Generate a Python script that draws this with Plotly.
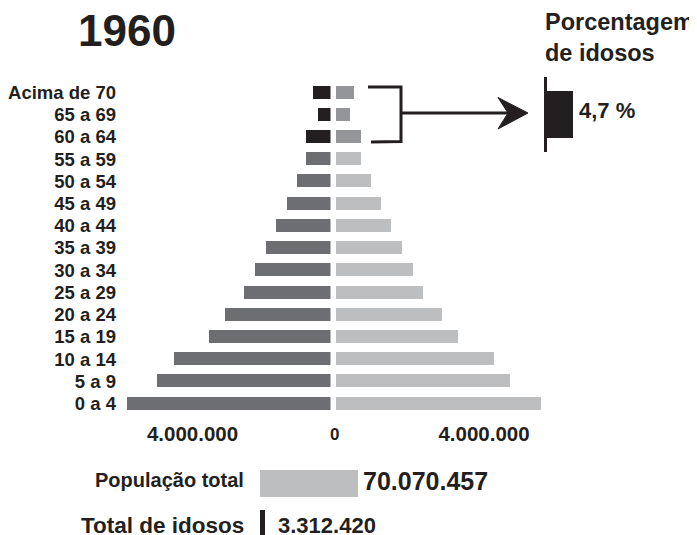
import plotly.graph_objects as go

# ---------------- data ----------------
age_groups = ["0 a 4", "5 a 9", "10 a 14", "15 a 19", "20 a 24", "25 a 29", "30 a 34",
              "35 a 39", "40 a 44", "45 a 49", "50 a 54", "55 a 59", "60 a 64", "65 a 69",
              "Acima de 70"]
men = [5690000, 4850000, 4380000, 3400000, 2950000, 2420000, 2110000,
       1800000, 1520000, 1220000, 940000, 690000, 690000, 360000, 500000]
women = [5730000, 4870000, 4420000, 3410000, 2970000, 2430000, 2150000,
         1850000, 1540000, 1260000, 980000, 700000, 700000, 390000, 500000]
elderly_groups = ["60 a 64", "65 a 69", "Acima de 70"]
axis_tick_values = [4000000]
axis_tick_labels = ["4.000.000"]
year = "1960"
totals_labels = ["Total de idosos", "População total"]
totals_values = [3312420, 70070457]
totals_text = ["3.312.420", "70.070.457"]
elderly_pct = 4.7
elderly_pct_text = "4,7 %"

# ---------------- style ----------------
OFF = 8                      # page body margin
W, H = 697 - OFF, 535 - OFF
FONT = "Liberation Sans, Arial, sans-serif"
TXT = "#231f20"
men_col = ["#231f20" if a in elderly_groups else "#6d6e71" for a in age_groups]
women_col = ["#939598" if a in elderly_groups else "#bcbec0" for a in age_groups]

def px(x):
    return (x - OFF) / W

def py(y):
    return 1 - (y - OFF) / H

PX_PER_M = 35.75
LZ, RZ = 330.5, 336.0
LSTART = 117
left_dom = [px(LSTART), px(LZ)]
right_dom = [px(RZ), px(600)]
y_dom = [py(414.6), py(81.4)]

fig = go.Figure()
fig.add_trace(go.Bar(y=age_groups, x=men, orientation="h", marker=dict(color=men_col, line=dict(width=0)),
                     width=0.585, xaxis="x", yaxis="y", showlegend=False, hoverinfo="x+y"))
fig.add_trace(go.Bar(y=age_groups, x=women, orientation="h", marker=dict(color=women_col, line=dict(width=0)),
                     width=0.585, xaxis="x2", yaxis="y", showlegend=False, hoverinfo="x+y"))

# totals bars
fig.add_trace(go.Bar(y=[0, 1], x=totals_values, orientation="h",
                     marker=dict(color=["#231f20", "#bcbec0"], line=dict(width=0)),
                     width=0.675, xaxis="x3", yaxis="y3", showlegend=False, hoverinfo="x"))
# percentage bar
fig.add_trace(go.Bar(y=[0], x=[elderly_pct], orientation="h",
                     marker=dict(color="#231f20", line=dict(width=0)),
                     width=1.0, xaxis="x4", yaxis="y4", showlegend=False, hoverinfo="x"))

tickfont = dict(family=FONT, size=20.5, color=TXT, weight="bold")
fig.update_layout(
    width=W, height=H, margin=dict(l=0, r=0, t=0, b=0),
    paper_bgcolor="white", plot_bgcolor="white", bargap=0,
    xaxis=dict(domain=left_dom, range=[(LZ - LSTART) / PX_PER_M * 1e6, 0], anchor="y",
               tickvals=axis_tick_values, ticktext=axis_tick_labels, tickfont=tickfont,
               showgrid=False, zeroline=False, showline=False, ticks="", ticklabelshift=-5,
               ticklabelstandoff=5),
    xaxis2=dict(domain=right_dom, range=[0, (600 - RZ) / PX_PER_M * 1e6], anchor="y",
                tickvals=axis_tick_values, ticktext=axis_tick_labels, tickfont=tickfont,
                showgrid=False, zeroline=False, showline=False, ticks="", ticklabelshift=5,
                ticklabelstandoff=5),
    yaxis=dict(domain=y_dom, type="category", categoryorder="array", categoryarray=age_groups,
               range=[-0.5, 14.5], anchor="x", showgrid=False, zeroline=False, showline=False,
               ticks="", tickfont=dict(family=FONT, size=18.5, color=TXT, weight="bold")),
    xaxis3=dict(domain=[px(260), px(460)], range=[0, 70070457 / 98 * 200], anchor="y3",
                visible=False),
    yaxis3=dict(domain=[0, 80 / H], range=[-0.2875, 1.7125], anchor="x3", visible=False),
    xaxis4=dict(domain=[px(547), px(620)], range=[0, elderly_pct * 73 / 26], anchor="y4",
                visible=False),
    yaxis4=dict(domain=[py(152), py(77)], range=[-0.8, 0.8], anchor="x4",
                showticklabels=False, ticks="", showgrid=False, zeroline=False,
                showline=True, linecolor="#231f20", linewidth=3),
)

ann = []
ann.append(dict(text=year, x=px(127), y=py(30.5), xref="paper", yref="paper", showarrow=False,
                font=dict(family=FONT, size=44, color=TXT, weight="bold"), xanchor="center", yanchor="middle"))
ann.append(dict(text="Porcentagem<br>de idosos", x=px(543), y=py(7), xref="paper", yref="paper",
                showarrow=False, align="left", xanchor="left", yanchor="top",
                font=dict(family=FONT, size=23.5, color=TXT, weight="bold")))
ann.append(dict(text=elderly_pct_text, x=elderly_pct, y=0, xref="x4", yref="y4", xshift=4, yshift=4,
                showarrow=False, xanchor="left", yanchor="middle",
                font=dict(family=FONT, size=22, color=TXT, weight="bold")))
ann.append(dict(text="0", x=px(334), y=py(434.5), xref="paper", yref="paper", showarrow=False,
                xanchor="center", yanchor="middle",
                font=dict(family=FONT, size=17, color=TXT, weight="bold")))
# totals: labels and values
label_sizes = [22.5, 20]
value_sizes = [22, 25]
label_yshift = [-2, 4]
value_yshift = [-2, 3]
value_xshift = [11, 3]
for i in range(2):
    ann.append(dict(text=totals_labels[i], x=0, y=i, xref="x3", yref="y3", xshift=-14,
                    yshift=label_yshift[i], showarrow=False, xanchor="right", yanchor="middle",
                    font=dict(family=FONT, size=label_sizes[i], color=TXT, weight="bold")))
    ann.append(dict(text=totals_text[i], x=totals_values[i], y=i, xref="x3", yref="y3",
                    xshift=value_xshift[i], yshift=value_yshift[i],
                    showarrow=False, xanchor="left", yanchor="middle",
                    font=dict(family=FONT, size=value_sizes[i], color=TXT, weight="bold")))
fig.update_layout(annotations=ann)

def path(pts, close=False):
    s = "M " + " L ".join(f"{px(x)} {py(y)}" for x, y in pts)
    return s + (" Z" if close else "")

shapes = [
    dict(type="path", xref="paper", yref="paper",
         path=path([(368, 87), (401, 87), (401, 141.5), (371, 142)]),
         line=dict(color="#231f20", width=3)),
    dict(type="line", xref="paper", yref="paper", x0=px(401), x1=px(510), y0=py(113), y1=py(113),
         line=dict(color="#231f20", width=3)),
    dict(type="path", xref="paper", yref="paper",
         path=path([(528, 113), (498, 97.5), (508, 113), (498, 129)], close=True),
         fillcolor="#231f20", line=dict(color="#231f20", width=1)),
]
fig.update_layout(shapes=shapes)

fig.write_html("out.html")
